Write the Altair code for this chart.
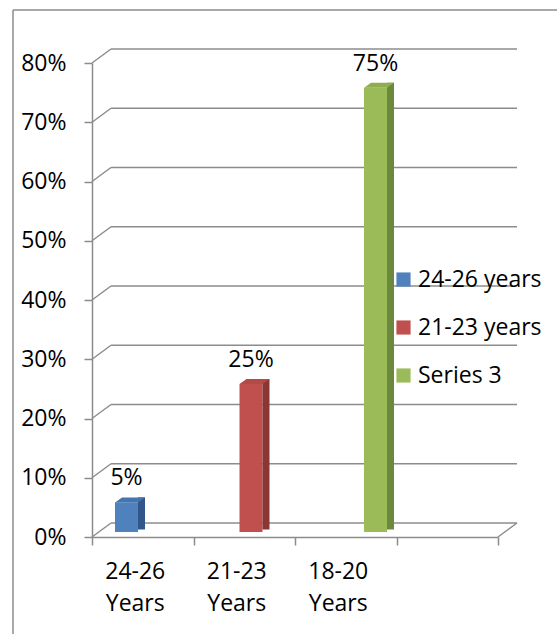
import altair as alt
import pandas as pd

# ---- data ----
categories = ["24-26 Years", "21-23 Years", "18-20 Years"]
floor_slots = categories + [" "]          # fourth, empty slot on the floor
series = ["24-26 years", "21-23 years", "Series 3"]
values = [0.05, 0.25, 0.75]               # one series per category
grid_values = [0.0, 0.1, 0.2, 0.3, 0.4, 0.5, 0.6, 0.7, 0.8]

front_colors = ["#4F81BD", "#C0504D", "#9BBB59"]
side_colors = ["#30568A", "#8A3634", "#6C883D"]
top_colors = ["#4575B0", "#B34A47", "#8FAE52"]

bars = pd.DataFrame({"category": categories, "series": series, "value": values})
grid = pd.DataFrame({"value": grid_values})

# ---- geometry of the 3-D box (pixels) ----
W, H = 406, 474
DX, DY = 19, -14          # depth of the back wall
BY = -5                   # columns stand mid-depth
SLOT = 23                 # width of one column
FIRST = 23                # left edge of the first column inside a category
SIDE, TOPH = 7, 5         # visible side / top depth of a column
GRAY = "#8C8C8C"
FONT = "Open Sans"
FS = 23


def band_offset(shift):
    lo = FIRST + shift
    return alt.Scale(type="band", domain=series, paddingInner=0, paddingOuter=0,
                     range=[lo, lo + SLOT * len(series)])


def point_offset(shift):
    lo = FIRST + SLOT / 2 + shift
    return alt.Scale(type="point", domain=series, padding=0,
                     range=[lo, lo + SLOT * (len(series) - 1)])


y_scale = alt.Scale(domain=[0, 0.8], nice=False, zero=True)
x_scale = alt.Scale(domain=floor_slots, paddingInner=0, paddingOuter=0)

y_axis = alt.Axis(values=grid_values, format=".0%", title=None, grid=False,
                  tickSize=8, labelPadding=18, labelFontSize=FS, labelFont=FONT,
                  labelColor="black", domainColor=GRAY, tickColor=GRAY,
                  domainWidth=1.5, tickWidth=1.5)
x_axis = alt.Axis(title=None, labelAngle=0, tickBand="extent", tickSize=8,
                  labelExpr="split(datum.label, ' ')", labelLineHeight=32,
                  labelPadding=15, labelOffset=-8, labelBaseline="top",
                  labelFontSize=FS, labelFont=FONT, labelColor="black",
                  domainColor=GRAY, tickColor=GRAY, domainWidth=1.5, tickWidth=1.5)

x_enc = alt.X("category:N", scale=x_scale, axis=x_axis)
y_enc = alt.Y("value:Q", scale=y_scale, axis=y_axis)

# ---- back wall and floor ----
back_lines = alt.Chart(grid).mark_rule(color=GRAY, strokeWidth=1.5, yOffset=DY).encode(
    x=alt.value(DX), x2=alt.value(W + DX), y=y_enc
)
left_wall = alt.Chart(grid).mark_rule(color=GRAY, strokeWidth=1.5, y2Offset=DY).encode(
    x=alt.value(0), x2=alt.value(DX), y=y_enc, y2=alt.Y2("value:Q")
)
floor_edge = alt.Chart(grid).transform_filter("datum.value == 0").mark_rule(
    color=GRAY, strokeWidth=1.5, y2Offset=DY
).encode(x=alt.value(W), x2=alt.value(W + DX), y=y_enc, y2=alt.Y2("value:Q"))

# ---- outer frame ----
frame_top = alt.Chart(grid).transform_filter("datum.value == 0").mark_rule(
    color=GRAY, strokeWidth=1.5
).encode(x=alt.value(-79), x2=alt.value(470), y=alt.value(-53))
frame_left = alt.Chart(grid).transform_filter("datum.value == 0").mark_rule(
    color=GRAY, strokeWidth=1.5
).encode(x=alt.value(-79), y=alt.value(-53), y2=alt.value(580))

# ---- columns ----
front = alt.Chart(bars).mark_bar(yOffset=BY, y2Offset=BY).encode(
    x=x_enc, xOffset=alt.XOffset("series:N", scale=band_offset(0)),
    y=y_enc, y2=alt.datum(0),
    color=alt.Color("series:N", scale=alt.Scale(domain=series, range=front_colors),
                    legend=alt.Legend(title=None, orient="none", legendX=300, legendY=205,
                                      symbolType="square", symbolSize=200,
                                      symbolStrokeWidth=0, labelFontSize=FS,
                                      labelFont=FONT, labelColor="black", labelOffset=3,
                                      rowPadding=24, padding=0)),
)
side = alt.Chart(bars).mark_bar(
    width=SIDE, yOffset=BY - TOPH, y2Offset=BY - TOPH / 2
).encode(
    x=x_enc, xOffset=alt.XOffset("series:N", scale=band_offset(SLOT / 2 + SIDE / 2)),
    y=y_enc, y2=alt.datum(0),
    color=alt.Color("series:N", scale=alt.Scale(domain=series, range=side_colors), legend=None),
)

# parallelogram for the lit top of each column
r = (SLOT + SIDE) / 2
b = TOPH / 2 / r
c = (SLOT / 2 - SIDE / 2) / r
top_shape = f"M -1 {b:.4f} L {c:.4f} {b:.4f} L 1 {-b:.4f} L {-c:.4f} {-b:.4f} Z"
top = alt.Chart(bars).mark_point(
    shape=top_shape, size=(2 * r) ** 2, filled=True, opacity=1, strokeWidth=0,
    yOffset=BY - TOPH / 2
).encode(
    x=x_enc, xOffset=alt.XOffset("series:N", scale=point_offset(SIDE / 2)),
    y=y_enc,
    color=alt.Color("series:N", scale=alt.Scale(domain=series, range=top_colors), legend=None),
)

labels = alt.Chart(bars).mark_text(
    yOffset=BY, dy=-17, baseline="alphabetic", align="center",
    fontSize=FS, font=FONT, color="black"
).encode(
    x=x_enc, xOffset=alt.XOffset("series:N", scale=point_offset(0)),
    y=y_enc, text=alt.Text("value:Q", format=".0%"),
)

chart = alt.layer(
    frame_top, frame_left, back_lines, left_wall, floor_edge, front, side, top, labels
).resolve_scale(color="independent", xOffset="independent").properties(
    width=W, height=H,
    autosize=alt.AutoSizeParams(type="none"),
    padding={"left": 92, "top": 63, "right": 59, "bottom": 97},
    background="white",
).configure_view(stroke=None)

chart.save("out.html", embed_options={"renderer": "svg", "actions": False})
